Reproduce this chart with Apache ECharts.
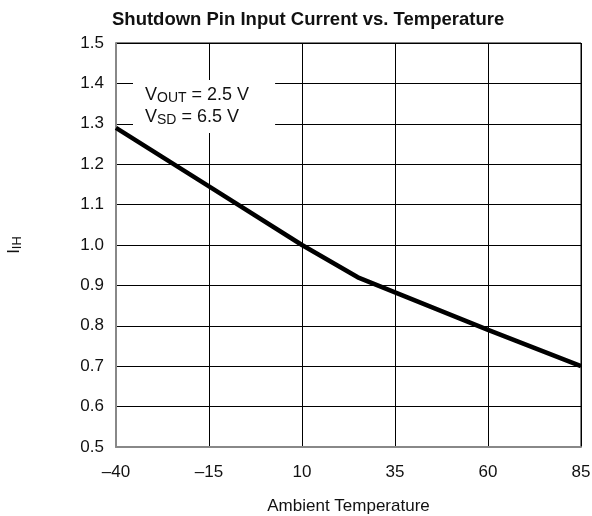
<!DOCTYPE html>
<html>
<head>
<meta charset="utf-8">
<script src="https://cdn.jsdelivr.net/npm/echarts@6/dist/echarts.min.js"></script>
<style>
  html, body { margin: 0; padding: 0; background: #fff; }
  #chart { width: 592px; height: 516px; }
</style>
</head>
<body>
<div id="chart"></div>
<script>
// data
let temps = [-40, -15, 10, 25, 60, 85];
let currents = [1.29, 1.145, 1.0, 0.92, 0.79, 0.70];

let FONT = 'Liberation Sans, Arial, sans-serif';

let myChart = echarts.init(document.getElementById('chart'));

let option = {
    animation: false,
    backgroundColor: '#fff',
    title: {
        text: 'Shutdown Pin Input Current vs. Temperature',
        left: 112,
        top: 10,
        padding: 0,
        textStyle: {fontFamily: FONT, fontSize: 18.5, fontWeight: 'bold', color: '#111'}
    },
    grid: {
        left: 116, right: 11, top: 43, bottom: 69,
        outerBoundsMode: 'none', containLabel: false,
        show: true, borderColor: '#000', borderWidth: 1
    },
    xAxis: {
        type: 'value',
        min: -40, max: 85, interval: 25,
        name: 'Ambient Temperature',
        nameLocation: 'middle',
        nameGap: 51,
        nameTextStyle: {fontFamily: FONT, fontSize: 17, color: '#111'},
        axisLine: {show: true, onZero: false, lineStyle: {color: '#888', width: 2}},
        axisTick: {show: false},
        axisLabel: {
            fontFamily: FONT, fontSize: 17, color: '#111', margin: 17,
            formatter: function (v) { return String(v).replace('-', '\u2013'); }
        },
        splitLine: {show: true, lineStyle: {color: '#000', width: 1}}
    },
    yAxis: {
        type: 'value',
        min: 0.5, max: 1.5, interval: 0.1,
        name: 'I{sub|IH}',
        nameLocation: 'middle',
        nameGap: 92,
        nameTextStyle: {
            fontFamily: FONT, fontSize: 17, color: '#111',
            rich: {sub: {fontFamily: FONT, fontSize: 13, color: '#111', padding: [7, 0, 0, 0]}}
        },
        axisLine: {show: true, onZero: false, lineStyle: {color: '#888', width: 2}},
        axisTick: {show: false},
        axisLabel: {
            fontFamily: FONT, fontSize: 17, color: '#111', margin: 12,
            formatter: function (v) { return v.toFixed(1); }
        },
        splitLine: {show: true, lineStyle: {color: '#000', width: 1}}
    },
    graphic: [{
        type: 'text',
        left: 133,
        top: 80,
        z: 10,
        style: {
            text: 'V{sub|OUT} = 2.5 V\nV{sub|SD} = 6.5 V',
            fill: '#111',
            backgroundColor: '#fff',
            padding: [4, 26, 5, 12],
            font: '18px ' + FONT,
            lineHeight: 22,
            rich: {sub: {fontFamily: FONT, fontSize: 14, fill: '#111', padding: [7, 0, 0, 0]}}
        }
    }],
    series: [{
        type: 'line',
        data: temps.map(function (t, i) { return [t, currents[i]]; }),
        symbol: 'none',
        lineStyle: {color: '#000', width: 4.5},
        z: 5
    }]
};

myChart.setOption(option);
</script>
</body>
</html>
